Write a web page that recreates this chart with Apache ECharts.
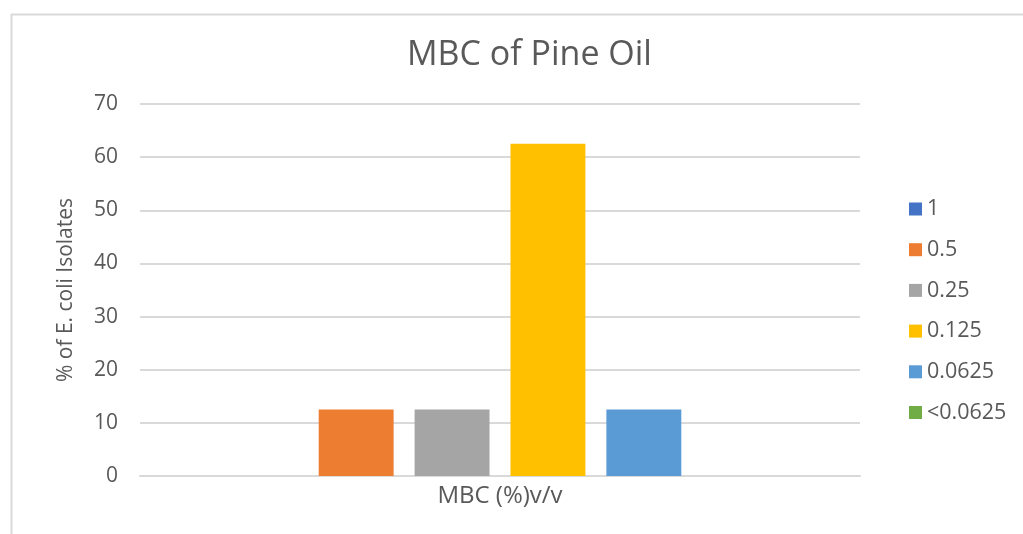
<!DOCTYPE html>
<html>
<head>
<meta charset="utf-8">
<script src="https://cdn.jsdelivr.net/npm/echarts@6/dist/echarts.min.js"></script>
<style>
  html, body { margin: 0; padding: 0; background: #ffffff; }
  #chart { width: 1023px; height: 534px; }
</style>
</head>
<body>
<div id="chart"></div>
<script>
// MBC concentrations (% v/v) and share of E. coli isolates at each
const categories = ['MBC (%)v/v'];
const seriesNames = ['1', '0.5', '0.25', '0.125', '0.0625', '<0.0625'];
const seriesValues = [0, 12.5, 12.5, 62.5, 12.5, 0];
const seriesColors = ['#4472C4', '#ED7D31', '#A5A5A5', '#FFC000', '#5B9BD5', '#70AD47'];
const yTicks = { min: 0, max: 70, interval: 10 };

const textColor = '#595959';
const fontFamily = '"Open Sans", "Noto Sans", sans-serif';

const chart = echarts.init(document.getElementById('chart'), null, { renderer: 'canvas' });

const series = seriesNames.map((name, i) => ({
  name: name,
  type: 'bar',
  data: [seriesValues[i]],
  itemStyle: { color: seriesColors[i] },
  barGap: '28%',
  barCategoryGap: '23%'
}));

chart.setOption({
  backgroundColor: '#ffffff',
  animation: false,
  title: {
    text: 'MBC of Pine Oil',
    left: 402,
    top: 33,
    textStyle: { color: textColor, fontSize: 34, fontWeight: 'normal', fontFamily: fontFamily }
  },
  graphic: [
    { type: 'line', shape: { x1: 11, y1: 14.5, x2: 1023, y2: 14.5 }, style: { stroke: '#d9d9d9', lineWidth: 2 } },
    { type: 'line', shape: { x1: 11.5, y1: 14, x2: 11.5, y2: 534 }, style: { stroke: '#d9d9d9', lineWidth: 2 } }
  ],
  legend: {
    orient: 'vertical',
    left: 904,
    top: 192,
    icon: 'rect',
    itemWidth: 13,
    itemHeight: 13,
    itemGap: 16.7,
    textStyle: { color: textColor, fontSize: 21.5, fontFamily: fontFamily, lineHeight: 24 },
    data: seriesNames
  },
  grid: { left: 140, right: 163, top: 104, bottom: 58 },
  xAxis: {
    type: 'category',
    data: categories,
    axisLine: { show: true, lineStyle: { color: '#d9d9d9', width: 2 } },
    axisTick: { show: false },
    axisLabel: { color: textColor, fontSize: 24, fontFamily: fontFamily, margin: 8 }
  },
  yAxis: {
    type: 'value',
    min: yTicks.min,
    max: yTicks.max,
    interval: yTicks.interval,
    name: '% of E. coli Isolates',
    nameLocation: 'middle',
    nameGap: 63,
    nameTextStyle: { color: textColor, fontSize: 21, fontFamily: fontFamily },
    axisLine: { show: false },
    axisTick: { show: false },
    axisLabel: { color: textColor, fontSize: 21, fontFamily: fontFamily, margin: 22 },
    splitLine: { lineStyle: { color: '#d9d9d9', width: 2 } }
  },
  series: series
});
</script>
</body>
</html>
